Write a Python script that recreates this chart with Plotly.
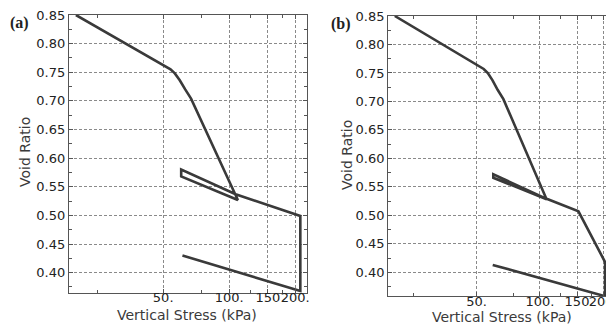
import math
import plotly.graph_objects as go

# ---- data ----
stress_a = [20.0, 54.0, 56.5, 59.5, 63.0, 67.0, 109.5, 60.4, 60.4, 107.0, 211.0, 211.0, 61.2]
void_a = [0.850, 0.755, 0.748, 0.736, 0.720, 0.704, 0.527, 0.568, 0.580, 0.537, 0.499, 0.368, 0.430]

stress_b = [20.4, 54.0, 56.5, 59.5, 63.0, 67.0, 107.6, 60.0, 60.0, 107.6, 152.4, 204.0, 204.0, 59.6]
void_b = [0.850, 0.757, 0.750, 0.737, 0.720, 0.704, 0.528, 0.566, 0.572, 0.529, 0.507, 0.418, 0.358, 0.413]

x_ticks = [50, 100, 150, 200]
x_ticktext = ["50.", "100.", "150", "200."]
x_minor = [25, 75, 125, 175]
y_ticks = [0.40, 0.45, 0.50, 0.55, 0.60, 0.65, 0.70, 0.75, 0.80, 0.85]
y_minor = [0.375, 0.425, 0.475, 0.525, 0.575, 0.625, 0.675, 0.725, 0.775, 0.825]

W, H = 606, 325
LINE = "#3a3a3a"
AX = "#555555"
GRID = "#8a8a8a"
FONT = "DejaVu Sans"


def px(x):
    return x / W


def py(y):
    return 1 - y / H


fig = go.Figure()
fig.add_trace(go.Scatter(x=stress_a, y=void_a, mode="lines", xaxis="x", yaxis="y",
                         line=dict(color=LINE, width=2.6), showlegend=False))
fig.add_trace(go.Scatter(x=stress_b, y=void_b, mode="lines", xaxis="x2", yaxis="y2",
                         line=dict(color=LINE, width=2.6), showlegend=False))


def xax(domain, rng, anchor):
    return dict(
        type="log", domain=domain, range=rng, anchor=anchor,
        tickmode="array", tickvals=x_ticks, ticktext=x_ticktext, tickangle=0,
        ticks="inside", ticklen=4, tickcolor=AX,
        showline=True, linecolor=AX, linewidth=1.3, mirror="ticks",
        showgrid=True, gridcolor=GRID, gridwidth=1, griddash="3px,2px",
        zeroline=False,
        minor=dict(tickmode="array", tickvals=x_minor, ticks="inside", ticklen=3,
                   tickcolor=AX, showgrid=False),
        tickfont=dict(family=FONT, size=13, color="#222"),
        ticklabeloverflow="allow", ticklabelstandoff=-7,
        automargin=False,
    )


def yax(domain, rng, anchor, mirror):
    return dict(
        domain=domain, range=rng, anchor=anchor,
        tickmode="array", tickvals=y_ticks, ticktext=[f"{v:.2f}" for v in y_ticks],
        ticks="inside", ticklen=4, tickcolor=AX,
        showline=True, linecolor=AX, linewidth=1.3, mirror=mirror,
        showgrid=True, gridcolor=GRID, gridwidth=1, griddash="3px,2px",
        zeroline=False,
        minor=dict(tickmode="array", tickvals=y_minor, ticks="inside", ticklen=3,
                   tickcolor=AX, showgrid=False),
        tickfont=dict(family=FONT, size=13, color="#222"),
        ticklabeloverflow="allow",
        automargin=False,
    )


title_font = dict(family=FONT, size=14, color="#3a3a3a")
panel_font = dict(family="Liberation Serif", size=16, color="#222")


def note(text, x, y, font, angle=0):
    return dict(text=text, x=px(x), y=py(y), xref="paper", yref="paper",
                xanchor="center", yanchor="middle", showarrow=False,
                font=font, textangle=angle)


fig.update_layout(
    width=W, height=H,
    margin=dict(l=0, r=0, t=0, b=0),
    paper_bgcolor="white", plot_bgcolor="white",
    xaxis=xax([px(69), px(306.7)], [math.log10(18.6), math.log10(225.6)], "y"),
    yaxis=yax([py(292.7), py(15)], [0.365, 0.85], "x", "ticks"),
    xaxis2=xax([px(388.3), 1.0], [math.log10(19.0), 2.314], "y2"),
    yaxis2=yax([py(296), py(16)], [0.3584, 0.85], "x2", False),
    annotations=[
        note("<b>(a)</b>", 19, 23, panel_font),
        note("<b>(b)</b>", 341, 24, panel_font),
        note("Vertical Stress (kPa)", 187, 315, title_font),
        note("Vertical Stress (kPa)", 502, 317, title_font),
        note("Void Ratio", 25, 152, title_font, -90),
        note("Void Ratio", 347, 155, title_font, -90),
    ],
)

fig.write_html("out.html",
               config={"displayModeBar": False},
               post_script="document.body.style.margin='0';document.body.style.overflow='hidden';")
